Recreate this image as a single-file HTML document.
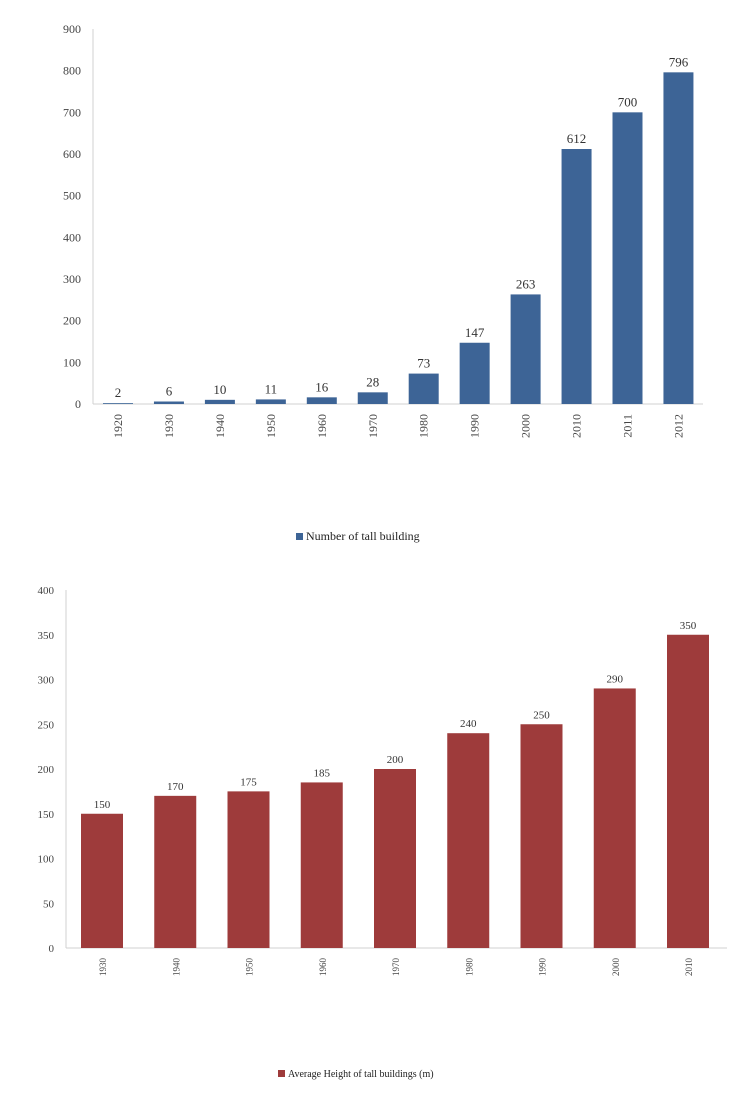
<!DOCTYPE html>
<html><head><meta charset="utf-8"><style>
html,body{margin:0;padding:0;background:#fff;}
svg{display:block;font-family:"Liberation Serif",serif;}
</style></head><body>
<svg id="c" width="737" height="1096" viewBox="0 0 737 1096"></svg>
<script>
const years1 = ["1920","1930","1940","1950","1960","1970","1980","1990","2000","2010","2011","2012"];
const counts = [2,6,10,11,16,28,73,147,263,612,700,796];
const ticks1 = [0,100,200,300,400,500,600,700,800,900];
const years2 = ["1930","1940","1950","1960","1970","1980","1990","2000","2010"];
const heights = [150,170,175,185,200,240,250,290,350];
const ticks2 = [0,50,100,150,200,250,300,350,400];

const NS="http://www.w3.org/2000/svg", svg=document.getElementById('c');
function mk(t,a,txt){const e=document.createElementNS(NS,t);for(const k in a)e.setAttribute(k,a[k]);if(txt!==undefined)e.textContent=txt;svg.appendChild(e);return e;}

function chart(o){
  const y=v=>o.base-(v/o.max)*(o.base-o.top);
  const x=i=>o.x0+i*o.step;
  let e=mk('line',{x1:o.axisX,y1:o.top,x2:o.axisX,y2:o.base,stroke:'#d0d0d0','stroke-width':1});
  
  
  e=mk('line',{x1:o.axisX,y1:o.base,x2:o.right,y2:o.base,stroke:'#d0d0d0','stroke-width':1});
  
  
  o.ticks.forEach(t=>{
    const l=mk('text',{x:o.axisX-12,y:y(t)+4,'text-anchor':'end','font-size':o.tfs,fill:'#444'},t);
    
    
  });
  o.vals.forEach((v,i)=>{
    const b=mk('rect',{x:x(i)-o.bw/2,y:y(v),width:o.bw,height:o.base-y(v),fill:o.color});
    
    
    const l=mk('text',{x:x(i),y:y(v)-6,'text-anchor':'middle','font-size':o.vfs,fill:'#333'},v);
    
    
    const c=mk('text',{transform:`translate(${x(i)+4},${o.base+10}) rotate(-90)`,'text-anchor':'end','font-size':o.cfs,fill:'#444'},o.cats[i]);
    
    
  });
  const s=mk('rect',{x:o.legX,y:o.legY-7,width:7,height:7,fill:o.color});
  
  
  const t=mk('text',{x:o.legX+10,y:o.legY,'font-size':o.lfs,fill:'#222'},o.legend);
  
  
}
chart({p:'tall-count',cats:years1,vals:counts,ticks:ticks1,max:900,top:29,base:404,axisX:93,right:703,x0:118,step:50.95,bw:30,color:'#3d6496',tfs:12,vfs:13,cfs:12,legX:296,legY:540,lfs:12,legend:'Number of tall building'});
chart({p:'avg-height',cats:years2,vals:heights,ticks:ticks2,max:400,top:590,base:948,axisX:66,right:727,x0:102,step:73.25,bw:42,color:'#9e3b3b',tfs:11,vfs:11,cfs:9,legX:278,legY:1077,lfs:10,legend:'Average Height of tall buildings (m)'});
</script>
</body></html>
